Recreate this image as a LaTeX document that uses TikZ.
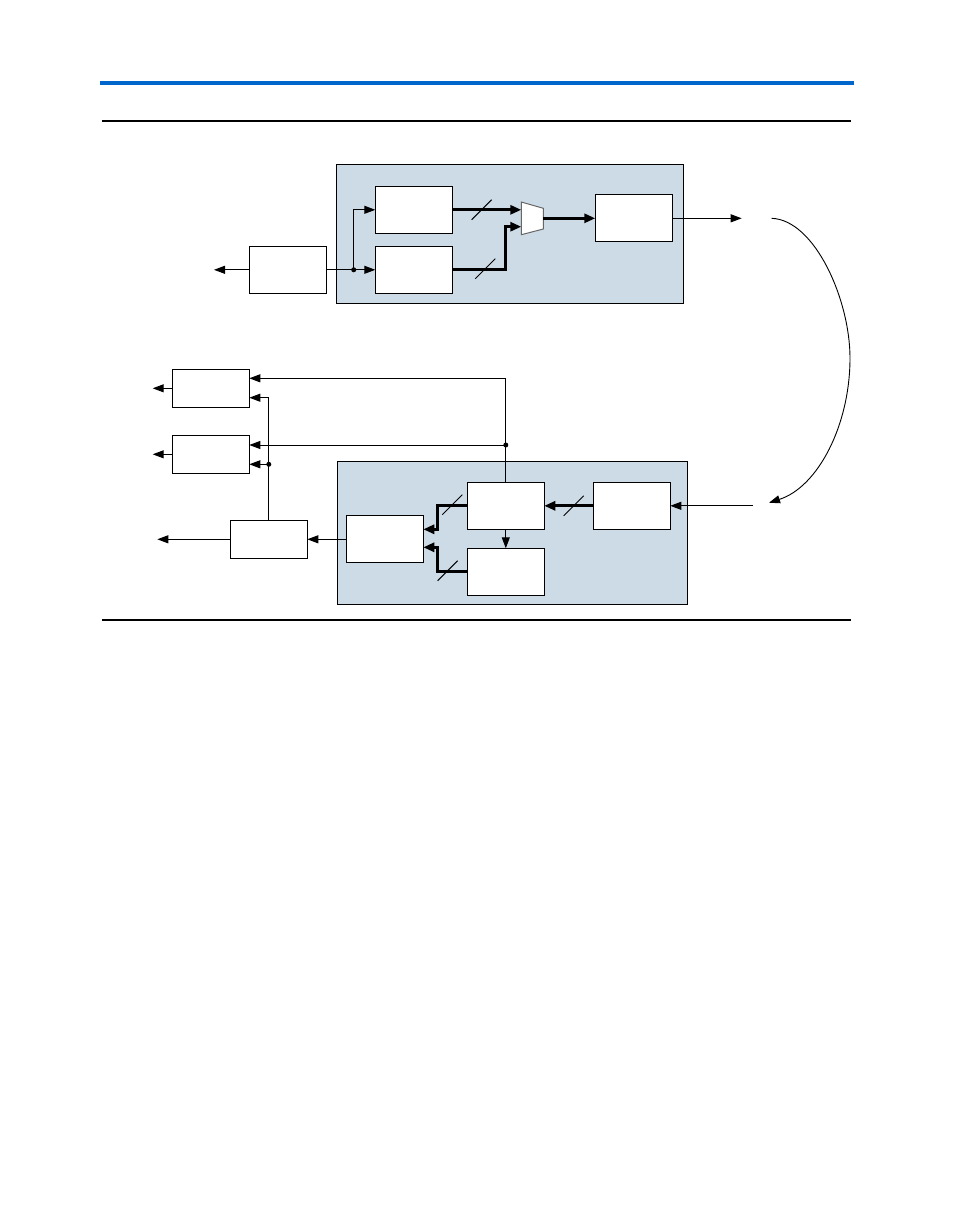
\documentclass[tikz,border=0pt]{standalone}
\usetikzlibrary{arrows.meta}
\definecolor{panel}{RGB}{205,219,230}
\definecolor{barblue}{RGB}{0,102,204}
\tikzset{
  box/.style={draw=black, line width=1pt, fill=white, minimum width=77pt, minimum height=47pt, inner sep=0pt, outer sep=0pt},
  sbox/.style={box, minimum height=38pt},
  panelbox/.style={draw=black, line width=1pt, fill=panel},
  arr/.style={line width=1pt, -{Triangle[length=11pt,width=8pt]}},
  tarr/.style={line width=3pt, -{Triangle[length=11pt,width=9pt]}},
  tline/.style={line width=3pt},
  slash/.style={line width=1pt},
  dot/.style={fill=black, circle, inner sep=0pt, minimum size=5pt},
}
\begin{document}
\begin{tikzpicture}[x=1pt,y=-1pt]
\useasboundingbox (0,0) rectangle (954,1227);
% header rules
\fill[barblue] (100,80.5) rectangle (854,84.5);
\draw[line width=1.2pt] (102,121) -- (851,121);
\draw[line width=1.2pt] (102,620) -- (851,620);
% panels
\draw[panelbox] (336.3,164.3) rectangle (683.3,303.3);
\draw[panelbox] (337.3,461) rectangle (687.3,604.3);
% top nodes
\node[box] (A) at (413.8,209.8) {};
\node[box] (B) at (413.8,269.8) {};
\node[box] (C) at (288.3,269.8) {};
\node[box] (D) at (633.8,217.5) {};
% mux
\draw[draw=gray!80!black, line width=1pt, fill=white] (521.3,202) -- (543.3,208.3) -- (543.3,229) -- (521.3,234.7) -- cycle;
\coordinate (m1) at (521.3,209.8);
\coordinate (m2) at (521.3,226.7);
\coordinate (mo) at (543.3,218.3);
\coordinate (Cout) at (214,269.8);
\coordinate (Dout) at (741.7,218.3);
\coordinate (d1) at (353.7,269.8);
% top connectors
\draw[arr] (C.west) -- (Cout);
\draw[arr] (C.east) -- (B.west);
\draw[arr] (d1) |- (A.west);
\node[dot] at (d1) {};
\draw[tarr] (A.east) -- (m1);
\draw[tarr] (B.east) -- (505.7,269.8) |- (m2);
\draw[tarr] (mo) -- (D.west |- mo);
\draw[arr] (D.east |- Dout) -- (Dout);
\draw[slash] (471.7,219.7) -- (491.7,199.7);
\draw[slash] (475.3,278.7) -- (495.3,258.7);
% loop curve
\coordinate (cs) at (771.7,218.3);
\coordinate (ce) at (769,502.7);
\draw[line width=0.9pt, -{Triangle[length=11pt,width=8pt]}] (cs) .. controls (815,220) and (850,300) .. (850,358) .. controls (850,425) and (818,487) .. (ce);
% bottom nodes
\node[box] (E) at (505.8,505.8) {};
\node[box] (F) at (631.8,505.8) {};
\node[box] (G) at (505.8,571.8) {};
\node[box] (H) at (384.8,538.7) {};
\node[sbox] (I) at (268.8,539.3) {};
\node[sbox] (J) at (210.8,388.3) {};
\node[sbox] (K) at (210.8,454.3) {};
\coordinate (Fin) at (752.7,505.8);
\coordinate (h1) at (423.3,529.3);
\coordinate (h2) at (423.3,547.3);
\coordinate (j1) at (249.3,378.3);
\coordinate (j2) at (249.3,397.7);
\coordinate (k1) at (249.3,445);
\coordinate (k2) at (249.3,464.3);
\coordinate (d2) at (505.8,445);
\coordinate (d3) at (268.8,464.3);
\coordinate (Iout) at (157.3,539.3);
\coordinate (Jout) at (152.7,388.3);
\coordinate (Kout) at (152.7,454.3);
% bottom connectors
\draw[arr] (Fin) -- (F.east);
\draw[tarr] (F.west) -- (E.east);
\draw[arr] (E.south) -- (G.north);
\draw[tarr] (E.west) -- (437.3,505.8) |- (h1);
\draw[tarr] (G.west) -- (437.3,571.8) |- (h2);
\draw[arr] (H.west |- I.east) -- (I.east);
\draw[arr] (I.west) -- (Iout);
\draw[arr] (J.west) -- (Jout);
\draw[arr] (K.west) -- (Kout);
\draw[arr] (E.north) |- (j1);
\draw[arr] (d2) -- (k1);
\node[dot] at (d2) {};
\draw[arr] (I.north) |- (j2);
\draw[arr] (d3) -- (k2);
\node[dot] at (d3) {};
\draw[slash] (563.7,515.8) -- (583.7,495.8);
\draw[slash] (442.3,514.7) -- (462.3,494.7);
\draw[slash] (437.7,580.7) -- (457.7,560.7);
\end{tikzpicture}
\end{document}
